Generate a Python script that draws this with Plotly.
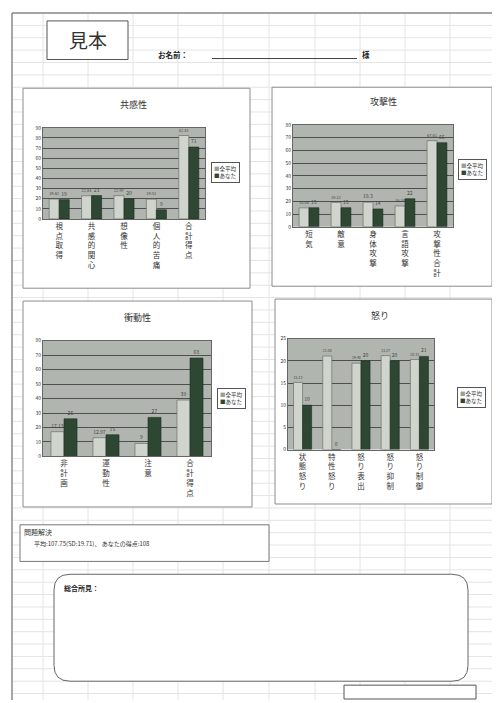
import plotly.graph_objects as go

# reference page size and the browser body offset (default 8px margin)
PW, PH = 500, 703
OFF = 8
W, H = PW - OFF, PH - OFF

def fx(x):
    return (x - OFF) / W

def fy(y):
    return 1 - (y - OFF) / H

series_names = ["全平均", "あなた"]

cats1 = ["視点取得", "共感的関心", "想像性", "個人的苦痛", "合計得点"]
avg1 = [19.62, 22.84, 22.97, 19.51, 82.41]
you1 = [19, 23, 20, 9, 71]

cats2 = ["短気", "敵意", "身体攻撃", "言語攻撃", "攻撃性合計"]
avg2 = [14.86, 19.12, 19.3, 16.34, 67.61]
you2 = [15, 15, 14, 22, 66]

cats3 = ["非計画", "運動性", "注意", "合計得点"]
avg3 = [17.13, 12.97, 9, 39]
you3 = [26, 15, 27, 68]

cats4 = ["状態怒り", "特性怒り", "怒り表出", "怒り抑制", "怒り制御"]
avg4 = [15.13, 21.08, 19.48, 21.17, 20.31]
you4 = [10, 0, 20, 20, 21]

titles = ["共感性", "攻撃性", "衝動性", "怒り"]

LIGHT = "#cfd4cc"
DARK = "#2e4733"
PLOTBG = "#b1b5af"
FONT = "Noto Sans CJK JP"

charts = [
    dict(c=cats1, a=avg1, u=you1, xd=(43, 205), yd=(125, 217), rng=(0, 90), dt=10,
         title=(133, 101), leg=(211, 160), box=(23, 85, 250, 287)),
    dict(c=cats2, a=avg2, u=you2, xd=(293, 453), yd=(122, 225), rng=(0, 80), dt=10,
         title=(383, 98), leg=(458, 157), box=(272, 84, 492, 285)),
    dict(c=cats3, a=avg3, u=you3, xd=(43, 211), yd=(340, 457), rng=(0, 80), dt=10,
         title=(137, 317), leg=(217, 388), box=(23, 300, 252, 508)),
    dict(c=cats4, a=avg4, u=you4, xd=(288, 434), yd=(338, 450), rng=(0, 25), dt=5,
         title=(380, 315), leg=(457, 387), box=(275, 298, 492, 505)),
]

fig = go.Figure()
shapes = []
annotations = []

# spreadsheet background grid
for i in range(0, 60):
    y = 9 + i * 12.5
    if y > PH:
        break
    shapes.append(dict(type="line", xref="paper", yref="paper", x0=fx(12), x1=fx(PW),
                       y0=fy(y), y1=fy(y), line=dict(color="#e4e4e4", width=1), layer="below"))
for x in [43, 88, 133, 178, 223, 269, 315, 360, 405, 450, 497]:
    shapes.append(dict(type="line", xref="paper", yref="paper", x0=fx(x), x1=fx(x),
                       y0=fy(9), y1=fy(PH), line=dict(color="#e4e4e4", width=1), layer="below"))
# page border
shapes.append(dict(type="line", xref="paper", yref="paper", x0=fx(12), x1=fx(PW),
                   y0=fy(9), y1=fy(9), line=dict(color="#8a8a8a", width=1.5), layer="below"))
shapes.append(dict(type="line", xref="paper", yref="paper", x0=fx(12), x1=fx(12),
                   y0=fy(9), y1=fy(PH), line=dict(color="#8a8a8a", width=1.5), layer="below"))

for i, ch in enumerate(charts):
    k = "" if i == 0 else str(i + 1)
    xa, ya = "x" + k, "y" + k
    fig.add_trace(go.Bar(x=ch["c"], y=ch["a"], name=series_names[0], xaxis=xa, yaxis=ya,
                         marker=dict(color=LIGHT, line=dict(color="#6c7269", width=0.7)),
                         text=[str(v) for v in ch["a"]], textposition="outside",
                         textfont=dict(size=5, color="#444"), cliponaxis=False, showlegend=False))
    fig.add_trace(go.Bar(x=ch["c"], y=ch["u"], name=series_names[1], xaxis=xa, yaxis=ya,
                         marker=dict(color=DARK, line=dict(color="#1e2e22", width=0.6)),
                         text=[str(v) for v in ch["u"]], textposition="outside",
                         textfont=dict(size=5, color="#444"), cliponaxis=False, showlegend=False))
    fig.layout["xaxis" + k] = dict(domain=[fx(ch["xd"][0]), fx(ch["xd"][1])], anchor=ya,
                                   tickmode="array", tickvals=ch["c"],
                                   ticktext=["<br>".join(list(c)) for c in ch["c"]],
                                   tickfont=dict(size=7.5, color="#333", family=FONT),
                                   showgrid=False, showline=True, linecolor="#666", mirror=True,
                                   ticks="", fixedrange=True)
    fig.layout["yaxis" + k] = dict(domain=[fy(ch["yd"][1]), fy(ch["yd"][0])], anchor=xa,
                                   range=list(ch["rng"]), dtick=ch["dt"],
                                   tickfont=dict(size=5, color="#333"),
                                   gridcolor="#4f4f4f", gridwidth=1, showline=True,
                                   linecolor="#666", mirror=True, zeroline=False, fixedrange=True)
    b = ch["box"]
    shapes.append(dict(type="rect", xref="paper", yref="paper", x0=fx(b[0]), x1=fx(b[2]),
                       y0=fy(b[3]), y1=fy(b[1]), line=dict(color="#8c8c8c", width=1),
                       fillcolor="white", layer="below"))
    # grey plot area (drawn over the white panel fill, under grid and bars)
    shapes.append(dict(type="rect", xref="paper", yref="paper",
                       x0=fx(ch["xd"][0]), x1=fx(ch["xd"][1]),
                       y0=fy(ch["yd"][1]), y1=fy(ch["yd"][0]),
                       line=dict(width=0), fillcolor=PLOTBG, layer="below"))
    annotations.append(dict(xref="paper", yref="paper", x=fx(ch["title"][0]), y=fy(ch["title"][1]),
                            text=titles[i], showarrow=False, xanchor="center", yanchor="middle",
                            font=dict(size=9, color="#333", family=FONT)))
    lx, ly = ch["leg"]
    annotations.append(dict(xref="paper", yref="paper", x=fx(lx), y=fy(ly),
                            text=f"<span style='color:#9aa097'>■</span>{series_names[0]}<br>"
                                 f"<span style='color:{DARK}'>■</span>{series_names[1]}",
                            showarrow=False, xanchor="left", yanchor="top", align="left",
                            bordercolor="#555", borderwidth=1, borderpad=2, bgcolor="white",
                            font=dict(size=5.5, color="#333", family=FONT)))

fig.update_layout(barmode="group", bargap=0.38, bargroupgap=0)

# header
shapes.append(dict(type="rect", xref="paper", yref="paper", x0=fx(47), x1=fx(128),
                   y0=fy(56), y1=fy(17), line=dict(color="#555", width=1), fillcolor="white"))
annotations.append(dict(xref="paper", yref="paper", x=fx(88), y=fy(36), text="見本", showarrow=False,
                        xanchor="center", yanchor="middle", font=dict(size=19, color="#333", family=FONT)))
annotations.append(dict(xref="paper", yref="paper", x=fx(156), y=fy(51), text="<b>お名前：</b>",
                        showarrow=False, xanchor="left", yanchor="middle",
                        font=dict(size=7.5, color="#222", family=FONT)))
shapes.append(dict(type="line", xref="paper", yref="paper", x0=fx(212), x1=fx(357),
                   y0=fy(55), y1=fy(55), line=dict(color="#444", width=1)))
annotations.append(dict(xref="paper", yref="paper", x=fx(360), y=fy(51), text="<b>様</b>",
                        showarrow=False, xanchor="left", yanchor="middle",
                        font=dict(size=7.5, color="#222", family=FONT)))

# problem solving box
shapes.append(dict(type="rect", xref="paper", yref="paper", x0=fx(20), x1=fx(269),
                   y0=fy(563), y1=fy(526), line=dict(color="#777", width=1), fillcolor="white"))
annotations.append(dict(xref="paper", yref="paper", x=fx(22), y=fy(533), text="問題解決",
                        showarrow=False, xanchor="left", yanchor="middle",
                        font=dict(size=7, color="#333", family=FONT)))
annotations.append(dict(xref="paper", yref="paper", x=fx(32), y=fy(545),
                        text="平均:107.75(SD:19.71)、 あなたの得点:108",
                        showarrow=False, xanchor="left", yanchor="middle",
                        font=dict(size=6, color="#333", family=FONT)))

# rounded comment box
x0, x1, y0, y1, r = 54, 468, 576, 684, 16
def P(x, y):
    return f"{fx(x)},{fy(y)}"
path = (f"M {P(x0 + r, y0)} L {P(x1 - r, y0)} Q {P(x1, y0)} {P(x1, y0 + r)} "
        f"L {P(x1, y1 - r)} Q {P(x1, y1)} {P(x1 - r, y1)} L {P(x0 + r, y1)} "
        f"Q {P(x0, y1)} {P(x0, y1 - r)} L {P(x0, y0 + r)} Q {P(x0, y0)} {P(x0 + r, y0)} Z")
shapes.append(dict(type="path", xref="paper", yref="paper", path=path,
                   line=dict(color="#666", width=1), fillcolor="white"))
annotations.append(dict(xref="paper", yref="paper", x=fx(62), y=fy(590), text="<b>総合所見：</b>",
                        showarrow=False, xanchor="left", yanchor="middle",
                        font=dict(size=7, color="#222", family=FONT)))
shapes.append(dict(type="rect", xref="paper", yref="paper", x0=fx(344), x1=fx(476),
                   y0=fy(PH - 1), y1=fy(688), line=dict(color="#555", width=1), fillcolor="white"))

fig.update_layout(width=W, height=H, margin=dict(l=0, r=0, t=0, b=0),
                  paper_bgcolor="white", plot_bgcolor=PLOTBG,
                  font=dict(family=FONT, color="#333"),
                  shapes=shapes, annotations=annotations, showlegend=False)

fig.write_html("out.html")
